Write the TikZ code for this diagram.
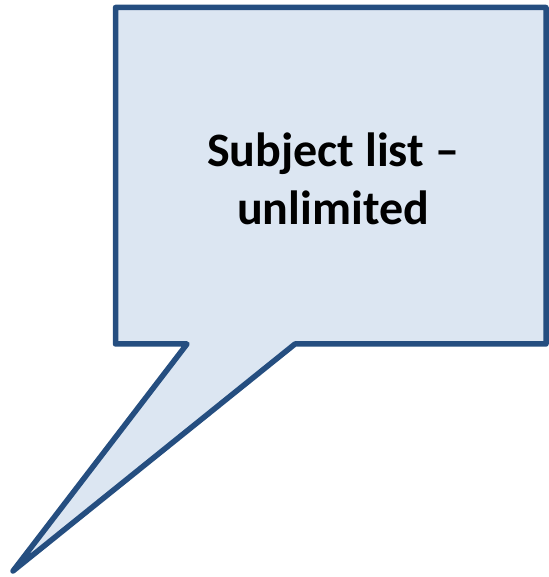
\documentclass[tikz,border=0pt]{standalone}
\usepackage{fontspec}
\setmainfont{Carlito}
\begin{document}
\begin{tikzpicture}[x=1pt,y=1pt,
  lbl/.style={font=\bfseries\fontsize{48}{58}\selectfont, align=center}]
\definecolor{cstroke}{HTML}{254E80}
\definecolor{cfill}{HTML}{DCE6F2}
\useasboundingbox (0,0) rectangle (548,577);
\coordinate (tl) at (115.5,569.5);
\coordinate (tr) at (546,569.5);
\coordinate (br) at (546,233);
\coordinate (pr) at (295,233);
\coordinate (tip) at (13,6);
\coordinate (pl) at (187,233);
\coordinate (bl) at (115.5,233);
\draw[draw=cstroke, fill=cfill, line width=5.5pt, line join=round]
  (tl) -- (tr) -- (br) -- (pr) -- (tip) -- (pl) -- (bl) -- cycle;
\node[lbl] (t) at (333,398) {Subject list –\\unlimited};
\end{tikzpicture}
\end{document}
